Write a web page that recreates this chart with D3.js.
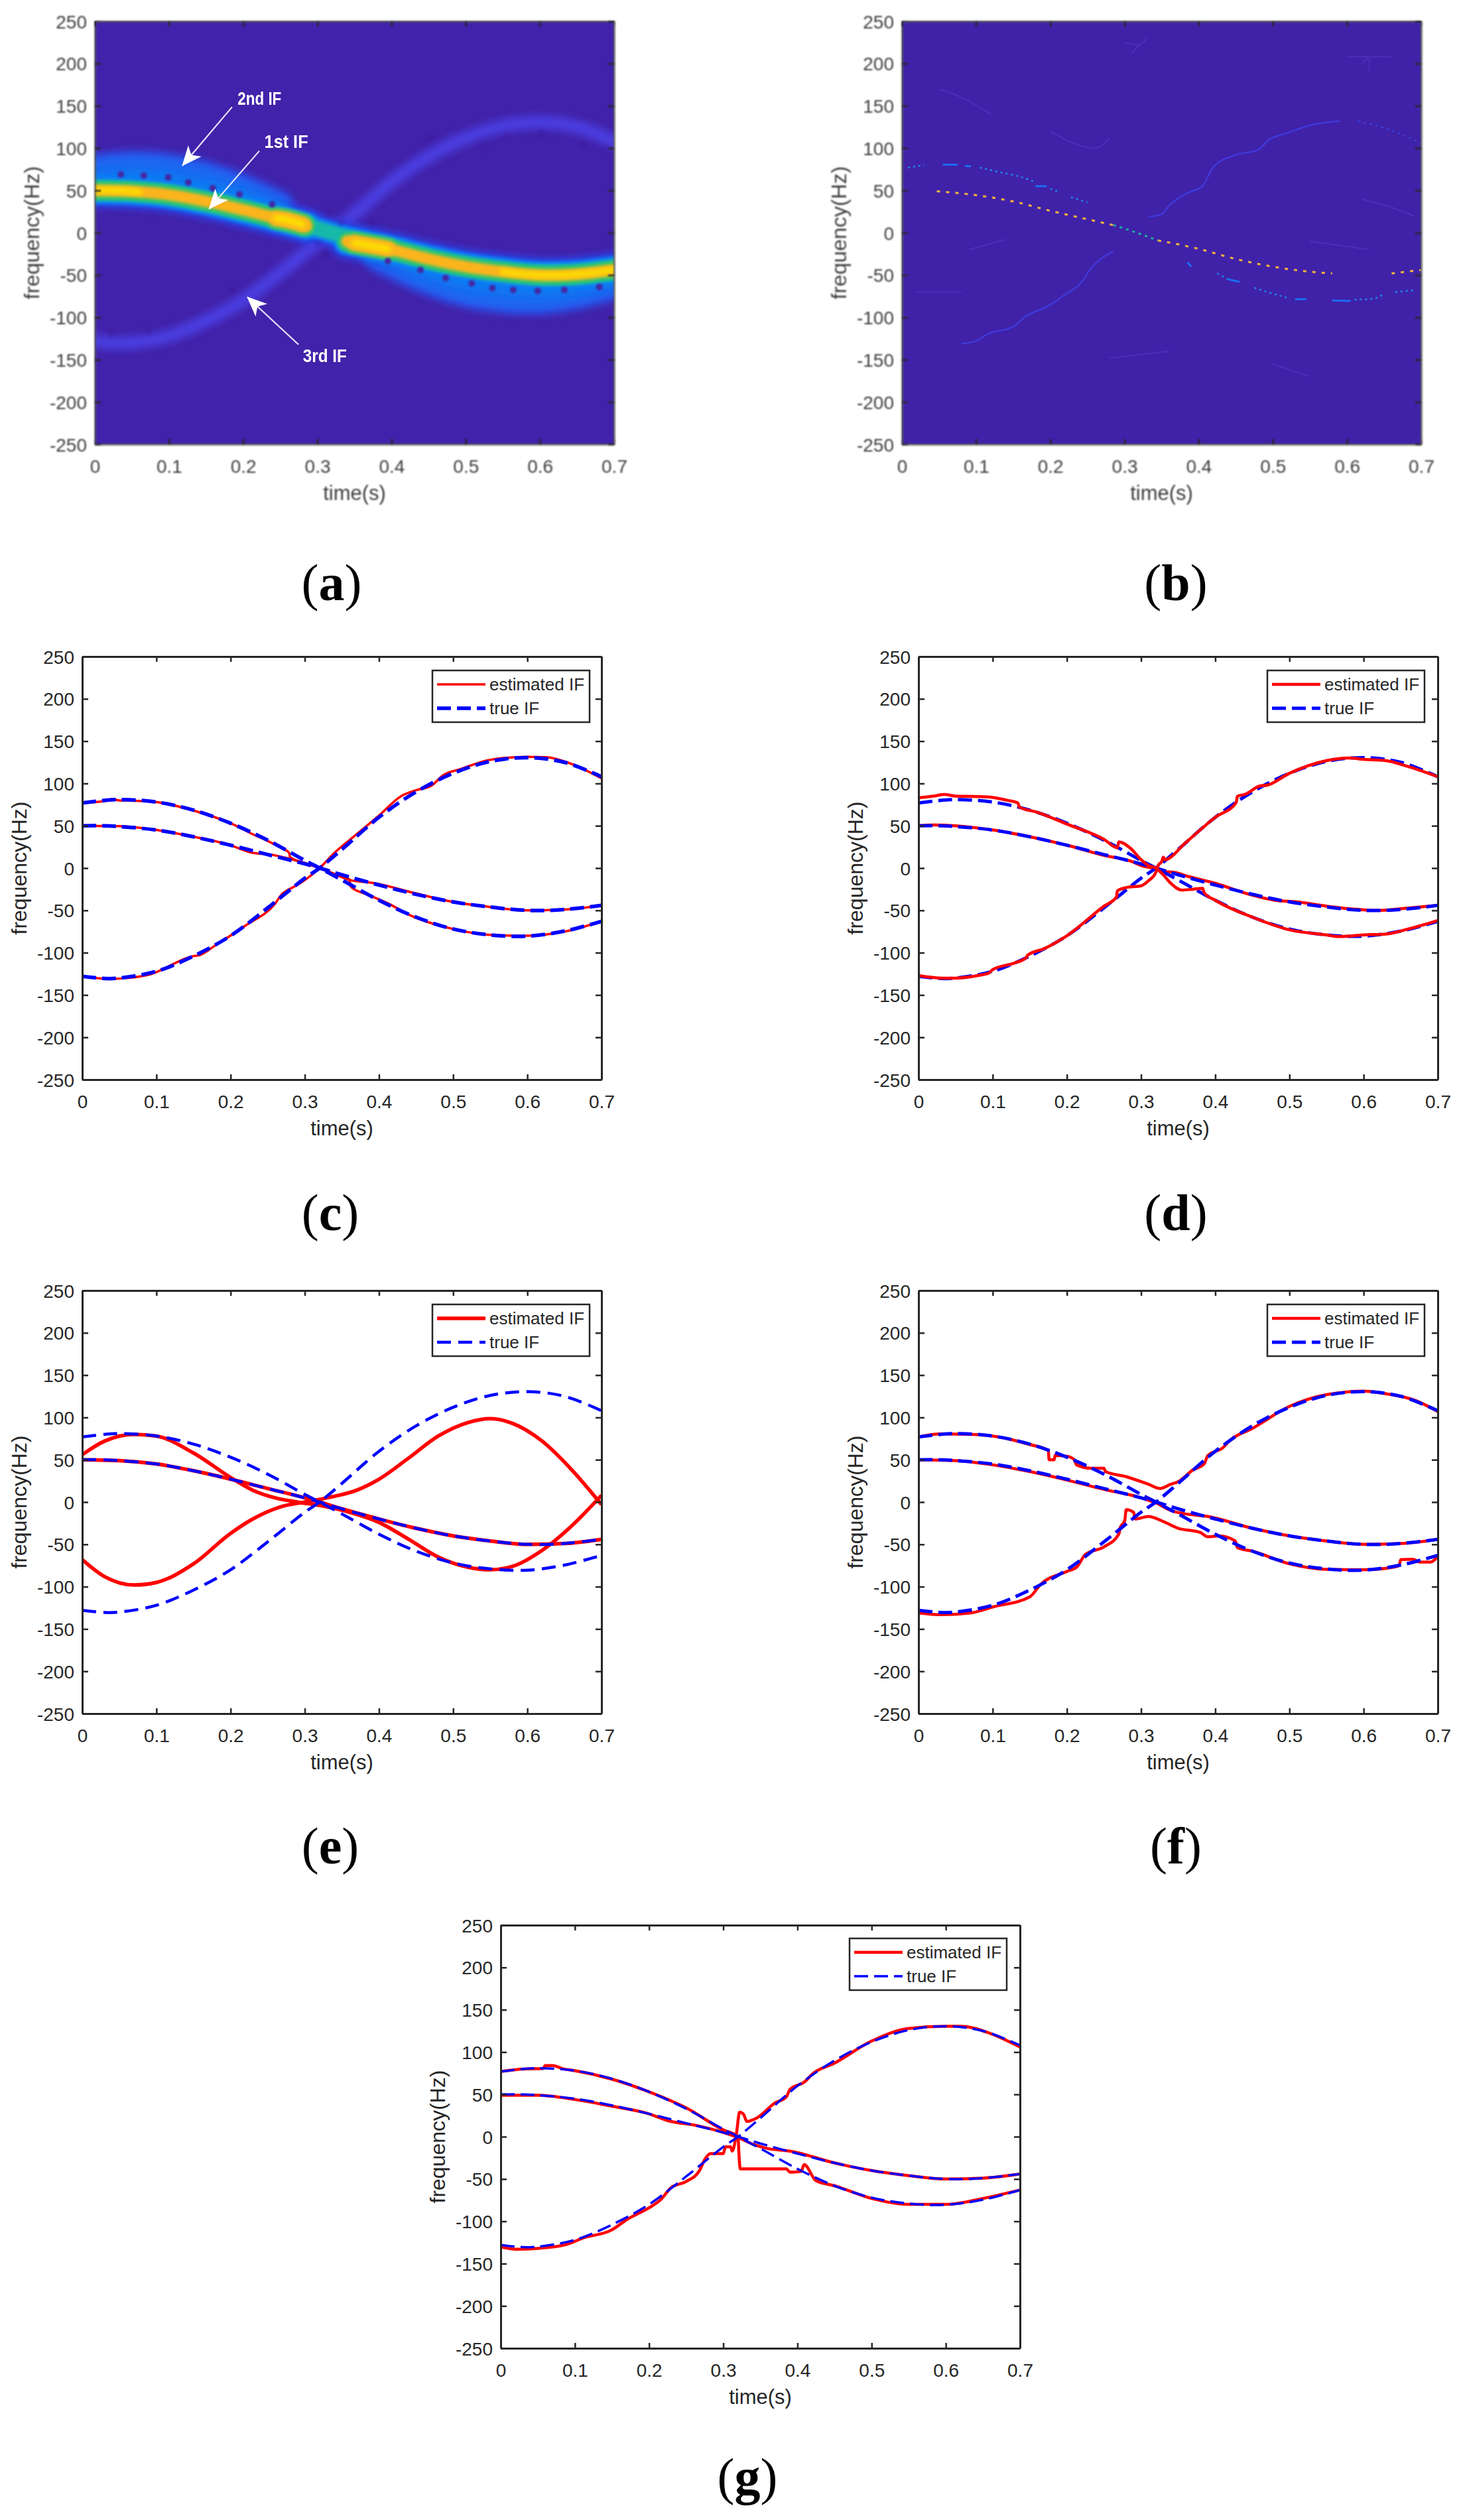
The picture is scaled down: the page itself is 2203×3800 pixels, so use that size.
<!DOCTYPE html>
<html>
<head>
<meta charset="utf-8">
<title>IF estimation</title>
<script src="https://cdn.jsdelivr.net/npm/d3@7"></script>
<style>
  body { margin: 0; background: #fff; }
  text { font-family: "Liberation Sans", Arial, sans-serif; fill: #262626; }
</style>
</head>
<body>
<div id="chart"></div>
<script>
// tick labels
var xTicks = [0, 0.1, 0.2, 0.3, 0.4, 0.5, 0.6, 0.7];
var yTicks = [-250, -200, -150, -100, -50, 0, 50, 100, 150, 200, 250];

// true IF curves
var timeTrue = [0, 0.03, 0.05, 0.1, 0.15, 0.2, 0.25, 0.3, 0.32, 0.35, 0.4, 0.45, 0.5, 0.55, 0.6, 0.65, 0.7];
var if1True = [50, 50, 49, 45, 37, 27, 16, 5, 0, -8, -20, -31, -40, -46, -50, -49, -44];
var if2True = [77, 80, 81, 78, 68.5, 53, 33, 9, 0, -14, -38, -58, -72, -79, -80.5, -74.5, -63];
var if3True = [-128, -130.5, -130, -122, -104, -80, -47, -12, 0, 22, 60, 90, 112, 126, 130.5, 125, 108];

// estimated IF curves, [time, frequency]
var estC1 = [[0,77],[0.035,80],[0.04,81.5],[0.05,80],[0.07,79.5],[0.1,78],[0.15,68],[0.2,53],[0.23,40],[0.25,32],[0.27,23],[0.279,18],[0.28,13],[0.3,6],[0.32,0],[0.34,-7],[0.36,-13],[0.362,-22],[0.38,-30],[0.4,-37],[0.415,-43],[0.44,-55],[0.5,-72],[0.55,-79],[0.6,-80],[0.65,-75],[0.7,-63]];
var estC2 = [[0,-128],[0.035,-131],[0.06,-130],[0.09,-126],[0.15,-104],[0.158,-103],[0.18,-91],[0.22,-68],[0.26,-42],[0.27,-30],[0.275,-27],[0.29,-20],[0.32,0],[0.34,18],[0.37,40],[0.4,62],[0.43,85],[0.45,92],[0.47,97],[0.487,110],[0.51,117],[0.55,128],[0.6,131.5],[0.625,131],[0.66,123],[0.7,106]];
var estC3 = [[0,50],[0.05,49.5],[0.1,45],[0.15,37],[0.2,27],[0.225,19],[0.26,15],[0.28,11],[0.32,0],[0.34,-7],[0.36,-14],[0.395,-18],[0.45,-30],[0.5,-40],[0.55,-46],[0.6,-50],[0.65,-49],[0.7,-44]];

var estD1 = [[0,83],[0.02,85],[0.035,87],[0.05,85],[0.08,84.5],[0.1,83.5],[0.12,80],[0.134,77],[0.136,72],[0.16,66],[0.2,52],[0.25,34],[0.268,24],[0.27,31],[0.285,24],[0.3,10],[0.31,3],[0.32,0],[0.33,-8],[0.34,-18],[0.355,-26],[0.37,-25],[0.383,-24],[0.385,-29],[0.4,-38],[0.45,-58],[0.5,-73],[0.55,-79],[0.567,-81],[0.6,-79],[0.63,-78],[0.66,-72],[0.7,-62]];
var estD2 = [[0,-127],[0.03,-130],[0.05,-130],[0.08,-127],[0.095,-124],[0.1,-120],[0.13,-112],[0.145,-106],[0.147,-103],[0.17,-95],[0.2,-80],[0.25,-45],[0.267,-34],[0.268,-27],[0.28,-23],[0.3,-21],[0.31,-15],[0.32,-5],[0.323,3],[0.328,8],[0.33,13],[0.332,10],[0.36,30],[0.4,60],[0.428,77],[0.43,85],[0.44,87],[0.46,97],[0.47,98],[0.5,112],[0.55,127],[0.58,130],[0.6,128.5],[0.63,127],[0.66,120],[0.7,108]];
var estD3 = [[0,50],[0.02,51],[0.05,50],[0.1,45],[0.15,37],[0.2,27],[0.25,15],[0.29,7],[0.3,3],[0.32,-1],[0.33,-4],[0.345,-5],[0.36,-9],[0.4,-18],[0.45,-32],[0.48,-38],[0.51,-40],[0.55,-45],[0.58,-48],[0.62,-50],[0.65,-48],[0.7,-44]];

var estE1 = [[0,56],[0.03,72],[0.07,80],[0.1,78],[0.15,58],[0.2,29],[0.23,14],[0.26,5],[0.29,0],[0.32,-4],[0.36,-12],[0.4,-24],[0.44,-44],[0.48,-65],[0.52,-77],[0.55,-80],[0.58,-76],[0.62,-57],[0.66,-28],[0.7,8]];
var estE2 = [[0,-68],[0.03,-88],[0.07,-98],[0.1,-95],[0.15,-73],[0.2,-37],[0.23,-20],[0.27,-5],[0.3,0],[0.33,5],[0.37,14],[0.4,27],[0.44,52],[0.48,78],[0.52,94],[0.55,98.5],[0.58,93],[0.62,72],[0.66,38],[0.7,-3]];
var estE3 = [[0,50],[0.05,49],[0.1,45],[0.15,37],[0.2,27],[0.25,16],[0.3,5],[0.32,0],[0.35,-8],[0.4,-20],[0.45,-31],[0.5,-40],[0.55,-46],[0.6,-50],[0.65,-49],[0.7,-44]];

var estF1 = [[0,77],[0.03,80.5],[0.07,80],[0.1,78],[0.15,68],[0.175,61],[0.176,50],[0.183,50],[0.184,55],[0.2,54],[0.21,50],[0.213,44],[0.232,40],[0.25,40],[0.252,36],[0.28,30],[0.31,21],[0.325,16],[0.34,21],[0.35,24],[0.37,38],[0.385,45],[0.39,55],[0.41,64],[0.42,73],[0.45,87],[0.5,113],[0.55,127],[0.6,131],[0.63,128],[0.67,120],[0.7,107]];
var estF2 = [[0,-131],[0.03,-133],[0.07,-131],[0.1,-124],[0.15,-112],[0.165,-97],[0.2,-82],[0.213,-77],[0.225,-62],[0.25,-53],[0.27,-38],[0.272,-30],[0.278,-22],[0.28,-9],[0.29,-12],[0.292,-20],[0.31,-17],[0.33,-23],[0.35,-31],[0.38,-36],[0.39,-41],[0.405,-40],[0.427,-46],[0.43,-54],[0.45,-58],[0.5,-73],[0.55,-79.5],[0.6,-80],[0.64,-77],[0.648,-75],[0.65,-68],[0.667,-67.5],[0.675,-71],[0.69,-71],[0.7,-64]];
var estF3 = [[0,50],[0.05,49],[0.1,44],[0.15,36],[0.2,26],[0.25,15],[0.3,5],[0.32,-1],[0.34,-10],[0.36,-14],[0.39,-17],[0.45,-31],[0.5,-40],[0.55,-46],[0.6,-50],[0.65,-49],[0.7,-44]];

var estG1 = [[0,77],[0.03,80],[0.057,80.5],[0.06,84],[0.07,84],[0.085,80],[0.1,78],[0.15,68],[0.2,53],[0.25,34],[0.3,8],[0.32,0],[0.321,-18],[0.323,-38],[0.385,-38],[0.39,-42],[0.405,-41],[0.409,-33],[0.425,-52],[0.45,-58],[0.5,-73],[0.55,-80],[0.6,-80],[0.65,-73],[0.7,-63]];
var estG2 = [[0,-130],[0.02,-133],[0.05,-132],[0.09,-127],[0.11,-120],[0.15,-110],[0.17,-98],[0.2,-84],[0.215,-75],[0.23,-60],[0.25,-53],[0.268,-40],[0.275,-27],[0.283,-20],[0.3,-20],[0.303,-12],[0.31,-12],[0.312,-17],[0.318,5],[0.322,29],[0.327,27],[0.332,18],[0.345,22],[0.37,40],[0.385,47],[0.39,56],[0.41,65],[0.42,74],[0.45,87],[0.5,113],[0.55,128],[0.6,130.5],[0.62,130.5],[0.66,122],[0.7,106]];
var estG3 = [[0,49],[0.05,49],[0.1,44],[0.15,36],[0.2,27],[0.225,19],[0.265,13],[0.3,5],[0.32,-1],[0.34,-9],[0.36,-14],[0.39,-17],[0.45,-31],[0.5,-40],[0.55,-46],[0.6,-50],[0.65,-49],[0.7,-44]];

// spectrogram ridges of panel (a)
var ridge1Left = [[-0.03,50],[0,50],[0.05,49],[0.1,45],[0.15,37],[0.2,27],[0.25,16],[0.285,8]];
var ridge1Right = [[0.34,-10],[0.4,-20],[0.45,-31],[0.5,-40],[0.55,-46],[0.6,-50],[0.65,-49],[0.7,-44],[0.73,-40]];
var ridge1Cross = [[0.25,16],[0.3,5],[0.32,0],[0.35,-8],[0.38,-15]];
var ridge2Left = [[-0.03,74],[0,77],[0.03,80],[0.05,81],[0.1,78],[0.15,68.5],[0.2,53],[0.25,33]];
var ridge2Right = [[0.38,-29],[0.4,-38],[0.45,-58],[0.5,-72],[0.55,-79],[0.6,-80.5],[0.65,-74.5],[0.7,-63],[0.73,-55]];
var bridgeLeft = [[-0.03,60],[0,62],[0.05,64],[0.1,61],[0.15,52],[0.2,40],[0.25,25]];
var bridgeRight = [[0.37,-22],[0.4,-29],[0.45,-44],[0.5,-56],[0.55,-62],[0.6,-65],[0.65,-62],[0.7,-54],[0.73,-48]];
var ridge3 = [[-0.03,-124],[0,-128],[0.03,-130.5],[0.05,-130],[0.1,-122],[0.15,-104],[0.2,-80],[0.25,-47],[0.3,-12],[0.32,0],[0.35,22],[0.4,60],[0.45,90],[0.5,112],[0.55,126],[0.6,130.5],[0.65,125],[0.7,108],[0.73,95]];
var blobLeft = [[0.245,17],[0.26,15],[0.28,10]];
var blobRight = [[0.35,-12],[0.37,-15],[0.395,-19]];
var yellowLeft = [[-0.03,50],[0,50],[0.03,50],[0.06,48]];
var yellowRight = [[0.55,-46],[0.6,-50],[0.65,-49],[0.7,-44],[0.73,-40]];
var spotsStrong = [[0.035,69],[0.066,67.6],[0.099,65.5],[0.126,59.6],[0.159,52.7],[0.195,45.5],[0.239,33.5],[0.395,-33.5],[0.439,-44],[0.473,-53.5],[0.508,-60],[0.536,-65.5],[0.564,-67.5],[0.597,-68.8],[0.633,-67.5],[0.68,-64]];
var spotsWeak = [[0.332,12],[0.301,-12.6],[0.373,11.4],[0.555,114.5],[0.602,117.7],[0.523,101.6],[0.658,105],[0.451,111.7],[0.185,-68],[0.073,-117],[0.023,-119],[0.31,-24],[0.315,24]];

// reassigned ridges of panel (b)
var b1Warm = [[[0.047,49],[0.1,44.5],[0.15,37],[0.2,26],[0.25,16],[0.285,9]],[[0.345,-9],[0.4,-19],[0.45,-31],[0.5,-40],[0.55,-46],[0.58,-48]],[[0.66,-48],[0.7,-44]]];
var b1Cool = [[[0.285,9],[0.3,5],[0.32,-1],[0.345,-9]]];
var b2Dotted = [[[0.105,77],[0.13,72],[0.16,66],[0.18,60]],[[0.2,52],[0.21,49]],[[0.228,42],[0.25,36]],[[0.425,-48],[0.44,-55]],[[0.475,-65],[0.5,-72],[0.52,-77]],[[0.61,-79],[0.635,-78],[0.65,-72]],[[0.665,-70],[0.69,-68]],[[0.008,77],[0.03,80]]];
var b2Solid = [[[0.055,80.5],[0.075,80.5]],[[0.085,79],[0.093,78.5]],[[0.18,55],[0.195,55]],[[0.44,-55],[0.455,-58]],[[0.53,-78.5],[0.545,-78.5]],[[0.58,-80],[0.605,-80.5]],[[0.385,-35],[0.39,-40]]];
var b3Solid = [[[0.08,-131],[0.1,-128],[0.115,-120],[0.15,-111],[0.165,-100],[0.2,-85],[0.22,-73],[0.245,-55],[0.25,-48],[0.285,-22]],[[0.333,19],[0.35,22],[0.36,32],[0.385,47],[0.405,55],[0.42,78],[0.45,92],[0.48,98],[0.495,110],[0.52,118],[0.55,127],[0.59,132]]];
var b3Dotted = [[[0.615,132],[0.65,124],[0.7,106]]];
var bWisps = [[[0.3,225],[0.32,222],[0.33,230]],[[0.31,212],[0.32,222]],[[0.62,200],[0.63,206],[0.63,190]],[[0.6,208],[0.66,208]],[[0.05,170],[0.08,160],[0.12,140]],[[0.2,120],[0.26,100],[0.28,112]],[[0.02,-70],[0.08,-70]],[[0.09,-20],[0.14,-8]],[[0.28,-148],[0.31,-145],[0.36,-140]],[[0.5,-155],[0.55,-170]],[[0.62,40],[0.66,30],[0.69,20]],[[0.55,-10],[0.63,-20]]];

// arrows and labels of panel (a)
var arrowTails = [[0.185,148.6],[0.2217,96.7],[0.2745,-132]];
var arrowTips = [[0.118,79.4],[0.154,28.3],[0.2056,-76]];
var arrowNames = ["2nd IF", "1st IF", "3rd IF"];
var arrowNamePos = [[0.222,159],[0.258,108],[0.31,-145]];

var legendNames = ["estimated IF", "true IF"];

var svgWidth = 2203;
var svgHeight = 3800;
var plotWidth = 783;
var plotHeight = 638;

var svg = d3.select("#chart")
  .append("svg")
  .attr("width", svgWidth)
  .attr("height", svgHeight);

var defs = svg.append("defs");

// blur filters for the image panels
[1, 1.5, 2, 3, 4, 5, 6, 8].forEach(function(s) {
  defs.append("filter")
    .attr("id", "blur" + String(s).replace(".", "_"))
    .attr("filterUnits", "userSpaceOnUse")
    .attr("x", -60).attr("y", -60)
    .attr("width", plotWidth + 220).attr("height", plotHeight + 220)
    .append("feGaussianBlur")
    .attr("stdDeviation", s);
});
var textBlur = defs.append("filter")
  .attr("id", "textBlur")
  .attr("filterUnits", "userSpaceOnUse")
  .attr("x", -140).attr("y", -60)
  .attr("width", plotWidth + 300).attr("height", plotHeight + 220);
textBlur.append("feGaussianBlur").attr("stdDeviation", 0.8);

defs.append("marker")
  .attr("id", "whiteHead")
  .attr("markerUnits", "userSpaceOnUse")
  .attr("viewBox", "0 -14 30 28")
  .attr("refX", 29).attr("refY", 0)
  .attr("markerWidth", 30).attr("markerHeight", 28)
  .attr("orient", "auto")
  .append("path")
  .attr("d", "M30,0 L0,-13 L8,0 L0,13 Z")
  .attr("fill", "#fff");

var x = d3.scaleLinear().domain([0, 0.7]).range([0, plotWidth]);
var y = d3.scaleLinear().domain([-250, 250]).range([plotHeight, 0]);

var pairs = function(ys) { return timeTrue.map(function(t, i) { return [t, ys[i]]; }); };

// smooth curve for the true IF and the ridges
var curve = d3.line()
  .x(function(d) { return x(d[0]); })
  .y(function(d) { return y(d[1]); })
  .curve(d3.curveCatmullRom.alpha(0.5));

// estimated IF has sharp kinks, this one does not overshoot them
var kinked = d3.line()
  .x(function(d) { return x(d[0]); })
  .y(function(d) { return y(d[1]); })
  .curve(d3.curveMonotoneX);

var plain = function(v) { return String(v); };

// axes with inward ticks on all four sides, MATLAB box style
function drawAxes(g, frameColor, frameWidth) {
  var bottom = g.append("g").attr("transform", "translate(0," + plotHeight + ")")
    .call(d3.axisBottom(x).tickValues(xTicks).tickFormat(plain).tickSizeInner(-8).tickSizeOuter(0).tickPadding(43));
  var left = g.append("g")
    .call(d3.axisLeft(y).tickValues(yTicks).tickFormat(plain).tickSizeInner(-9).tickSizeOuter(0).tickPadding(12));
  var top = g.append("g")
    .call(d3.axisTop(x).tickValues(xTicks).tickFormat("").tickSizeInner(-8).tickSizeOuter(0));
  var right = g.append("g").attr("transform", "translate(" + plotWidth + ",0)")
    .call(d3.axisRight(y).tickValues(yTicks).tickFormat("").tickSizeInner(-9).tickSizeOuter(0));
  [bottom, left, top, right].forEach(function(a) {
    a.attr("font-family", null).attr("font-size", null);
    a.select(".domain").attr("stroke", frameColor).attr("stroke-width", frameWidth);
    a.selectAll(".tick line").attr("stroke", "#262626").attr("stroke-width", 2.5);
    a.selectAll(".tick text").style("font-size", "28px");
  });
  left.selectAll(".tick text").attr("dy", "0.36em");
  bottom.selectAll(".tick text").attr("dy", "0");

  g.append("text")
    .attr("x", plotWidth / 2)
    .attr("y", plotHeight + 84)
    .attr("text-anchor", "middle")
    .style("font-size", "31px")
    .text("time(s)");
  g.append("text")
    .attr("transform", "translate(-84," + (plotHeight / 2) + ") rotate(-90)")
    .attr("text-anchor", "middle")
    .style("font-size", "32px")
    .text("frequency(Hz)");
}

// "(a)" style caption below a panel
function drawCaption(letter, cx, baseline) {
  var t = svg.append("text")
    .attr("x", cx)
    .attr("y", baseline)
    .attr("text-anchor", "middle")
    .style("font-family", '"Liberation Serif", serif')
    .style("font-size", "78px")
    .style("fill", "#000");
  t.append("tspan").text("(");
  t.append("tspan").style("font-weight", "bold").text(letter);
  t.append("tspan").text(")");
}

function drawLinePanel(cfg) {
  var g = svg.append("g").attr("transform", "translate(" + cfg.left + "," + cfg.top + ")");
  var lines = g.append("g").attr("clip-path", "url(#plotClip)");

  var estimated = function(list) {
    lines.selectAll(null).data(list).enter().append("path")
      .attr("d", kinked)
      .attr("fill", "none")
      .attr("stroke", "#ff0000")
      .attr("stroke-width", cfg.redWidth)
      .attr("stroke-linejoin", "round");
  };
  var truth = function() {
    lines.selectAll(null).data([if1True, if2True, if3True].map(pairs)).enter().append("path")
      .attr("d", curve)
      .attr("fill", "none")
      .attr("stroke", "#0000ff")
      .attr("stroke-width", cfg.blueWidth)
      .attr("stroke-dasharray", cfg.dash);
  };
  // in some panels the two red branches sit over the dashes
  estimated(cfg.redBelow);
  truth();
  estimated(cfg.redAbove);

  drawAxes(g, "#262626", 3);

  // legend
  var legend = g.append("g").attr("transform", "translate(" + (plotWidth - cfg.legendRight - 237) + "," + cfg.legendTop + ")");
  legend.append("rect")
    .attr("width", 237).attr("height", 78)
    .attr("fill", "#fff").attr("stroke", "#262626").attr("stroke-width", 2.5);
  legend.append("line").attr("x1", 7).attr("x2", 80).attr("y1", 21).attr("y2", 21)
    .attr("stroke", "#ff0000").attr("stroke-width", cfg.redWidth);
  legend.append("line").attr("x1", 7).attr("x2", 80).attr("y1", 57).attr("y2", 57)
    .attr("stroke", "#0000ff").attr("stroke-width", cfg.blueWidth).attr("stroke-dasharray", cfg.dash);
  legendNames.forEach(function(name, i) {
    legend.append("text").attr("x", 86).attr("y", 30 + i * 36).style("font-size", "26px").text(name);
  });

  drawCaption(cfg.letter, cfg.captionX, cfg.captionY);
}

function blurId(s) { return "url(#blur" + String(s).replace(".", "_") + ")"; }

function imageAxes(g) {
  var labels = g.append("g").attr("filter", "url(#textBlur)").attr("class", "soft");
  drawAxes(labels, "#5a5a5a", 2.5);
  labels.selectAll("text").style("fill", "#3c3c3c");
}

// panel (a): spectrogram built from blurred strokes along the IF ridges
function drawPanelA(left, top) {
  var g = svg.append("g").attr("transform", "translate(" + left + "," + top + ")");
  var img = g.append("g").attr("clip-path", "url(#plotClip)");
  img.append("rect").attr("width", plotWidth).attr("height", plotHeight).attr("fill", "#4122aa");

  var layers = [
    [[ridge3], 20, "#4a3ce0", 6],
    [[ridge2Left, ridge2Right], 42, "#2c50e8", 6],
    [[ridge2Left, ridge2Right], 24, "#1c68f0", 5],
    [[ridge1Left, ridge1Right], 54, "#2c40e2", 5],
    [[ridge1Cross], 42, "#2c40e2", 5],
    [[bridgeLeft, bridgeRight], 30, "#0a78f2", 4],
    [[ridge1Left, ridge1Right], 42, "#0a80f4", 2],
    [[ridge1Cross], 32, "#0a80f4", 2],
    [[ridge1Left, ridge1Right], 33, "#12b8a0", 1.5],
    [[ridge1Cross], 22, "#14b8a8", 2],
    [[ridge1Left, ridge1Right], 26, "#34c46c", 1.5],
    [[blobLeft, blobRight], 34, "#40c468", 2],
    [[ridge1Left, ridge1Right], 17, "#fbb41e", 2],
    [[blobLeft, blobRight], 24, "#fbb41e", 2],
    [[blobLeft, blobRight], 10, "#fde000", 3],
    [[yellowLeft, yellowRight], 9, "#fbdc00", 3]
  ];
  layers.forEach(function(layer) {
    img.selectAll(null).data(layer[0]).enter().append("path")
      .attr("d", curve)
      .attr("fill", "none")
      .attr("stroke", layer[2])
      .attr("stroke-width", layer[1])
      .attr("stroke-linecap", "round")
      .attr("filter", blurId(layer[3]));
  });

  img.selectAll(null).data(spotsWeak).enter().append("circle")
    .attr("cx", function(d) { return x(d[0]); })
    .attr("cy", function(d) { return y(d[1]); })
    .attr("r", 5)
    .attr("fill", "#36168e")
    .attr("opacity", 0.3)
    .attr("filter", blurId(2));
  img.selectAll(null).data(spotsStrong).enter().append("circle")
    .attr("cx", function(d) { return x(d[0]); })
    .attr("cy", function(d) { return y(d[1]); })
    .attr("r", 5)
    .attr("fill", "#4426a4")
    .attr("filter", blurId(1.5));

  imageAxes(g);

  // arrows
  g.selectAll(null).data(arrowTails).enter().append("line")
    .attr("x1", function(d) { return x(d[0]); })
    .attr("y1", function(d) { return y(d[1]); })
    .attr("x2", function(d, i) { return x(arrowTips[i][0]); })
    .attr("y2", function(d, i) { return y(arrowTips[i][1]); })
    .attr("stroke", "#e8e4f8")
    .attr("stroke-width", 2.2)
    .attr("marker-end", "url(#whiteHead)");
  g.selectAll(null).data(arrowNames).enter().append("text")
    .attr("x", function(d, i) { return x(arrowNamePos[i][0]); })
    .attr("y", function(d, i) { return y(arrowNamePos[i][1]); })
    .attr("text-anchor", "middle")
    .attr("dy", "0.36em")
    .attr("textLength", 66)
    .attr("lengthAdjust", "spacingAndGlyphs")
    .style("font-weight", "bold")
    .style("font-size", "28px")
    .style("fill", "#fff")
    .text(function(d) { return d; });

  drawCaption("a", 500, 905);
}

// panel (b): thin reassigned ridges
function drawPanelB(left, top) {
  var g = svg.append("g").attr("transform", "translate(" + left + "," + top + ")");
  var img = g.append("g").attr("clip-path", "url(#plotClip)");
  img.append("rect").attr("width", plotWidth).attr("height", plotHeight).attr("fill", "#4022a8");

  var strokes = [
    [bWisps, 2, "#4a30bc", null],
    [b3Solid, 2.2, "#3f3ce0", null],
    [b3Dotted, 2.2, "#3f44e4", "3 6"],
    [b2Dotted, 2.5, "#1c88ea", "3 5"],
    [b2Solid, 3, "#1c6cf4", null],
    [b1Cool, 3, "#1eb0a0", "4 6"],
    [b1Warm, 3, "#f4b23c", "5 9"]
  ];
  strokes.forEach(function(s) {
    img.selectAll(null).data(s[0]).enter().append("path")
      .attr("d", kinked)
      .attr("fill", "none")
      .attr("stroke", s[2])
      .attr("stroke-width", s[1])
      .attr("stroke-dasharray", s[3]);
  });

  imageAxes(g);
  drawCaption("b", 1773, 905);
}

// clip used by every panel
defs.append("clipPath").attr("id", "plotClip")
  .append("rect").attr("width", plotWidth).attr("height", plotHeight);

drawPanelA(143, 32);
drawPanelB(1360, 32);

drawLinePanel({ letter: "c", left: 124, top: 990, redBelow: [estC1, estC2, estC3], redAbove: [], redWidth: 3.5, blueWidth: 5.5, dash: "21 9", legendRight: 18, legendTop: 21, captionX: 498, captionY: 1855 });
drawLinePanel({ letter: "d", left: 1385, top: 990, redBelow: [estD3], redAbove: [estD1, estD2], redWidth: 4.5, blueWidth: 5, dash: "21 9", legendRight: 20, legendTop: 21, captionX: 1773, captionY: 1855 });
drawLinePanel({ letter: "e", left: 124, top: 1946, redBelow: [estE1, estE2, estE3], redAbove: [], redWidth: 5.5, blueWidth: 4.5, dash: "21 11", legendRight: 18, legendTop: 21, captionX: 498, captionY: 2810 });
drawLinePanel({ letter: "f", left: 1385, top: 1946, redBelow: [estF1, estF2, estF3], redAbove: [], redWidth: 4.5, blueWidth: 5, dash: "21 9", legendRight: 20, legendTop: 21, captionX: 1773, captionY: 2810 });
drawLinePanel({ letter: "g", left: 755, top: 2903, redBelow: [estG1, estG2, estG3], redAbove: [], redWidth: 4.5, blueWidth: 3.5, dash: "21 9", legendRight: 20, legendTop: 20, captionX: 1127, captionY: 3761 });
</script>
</body>
</html>
